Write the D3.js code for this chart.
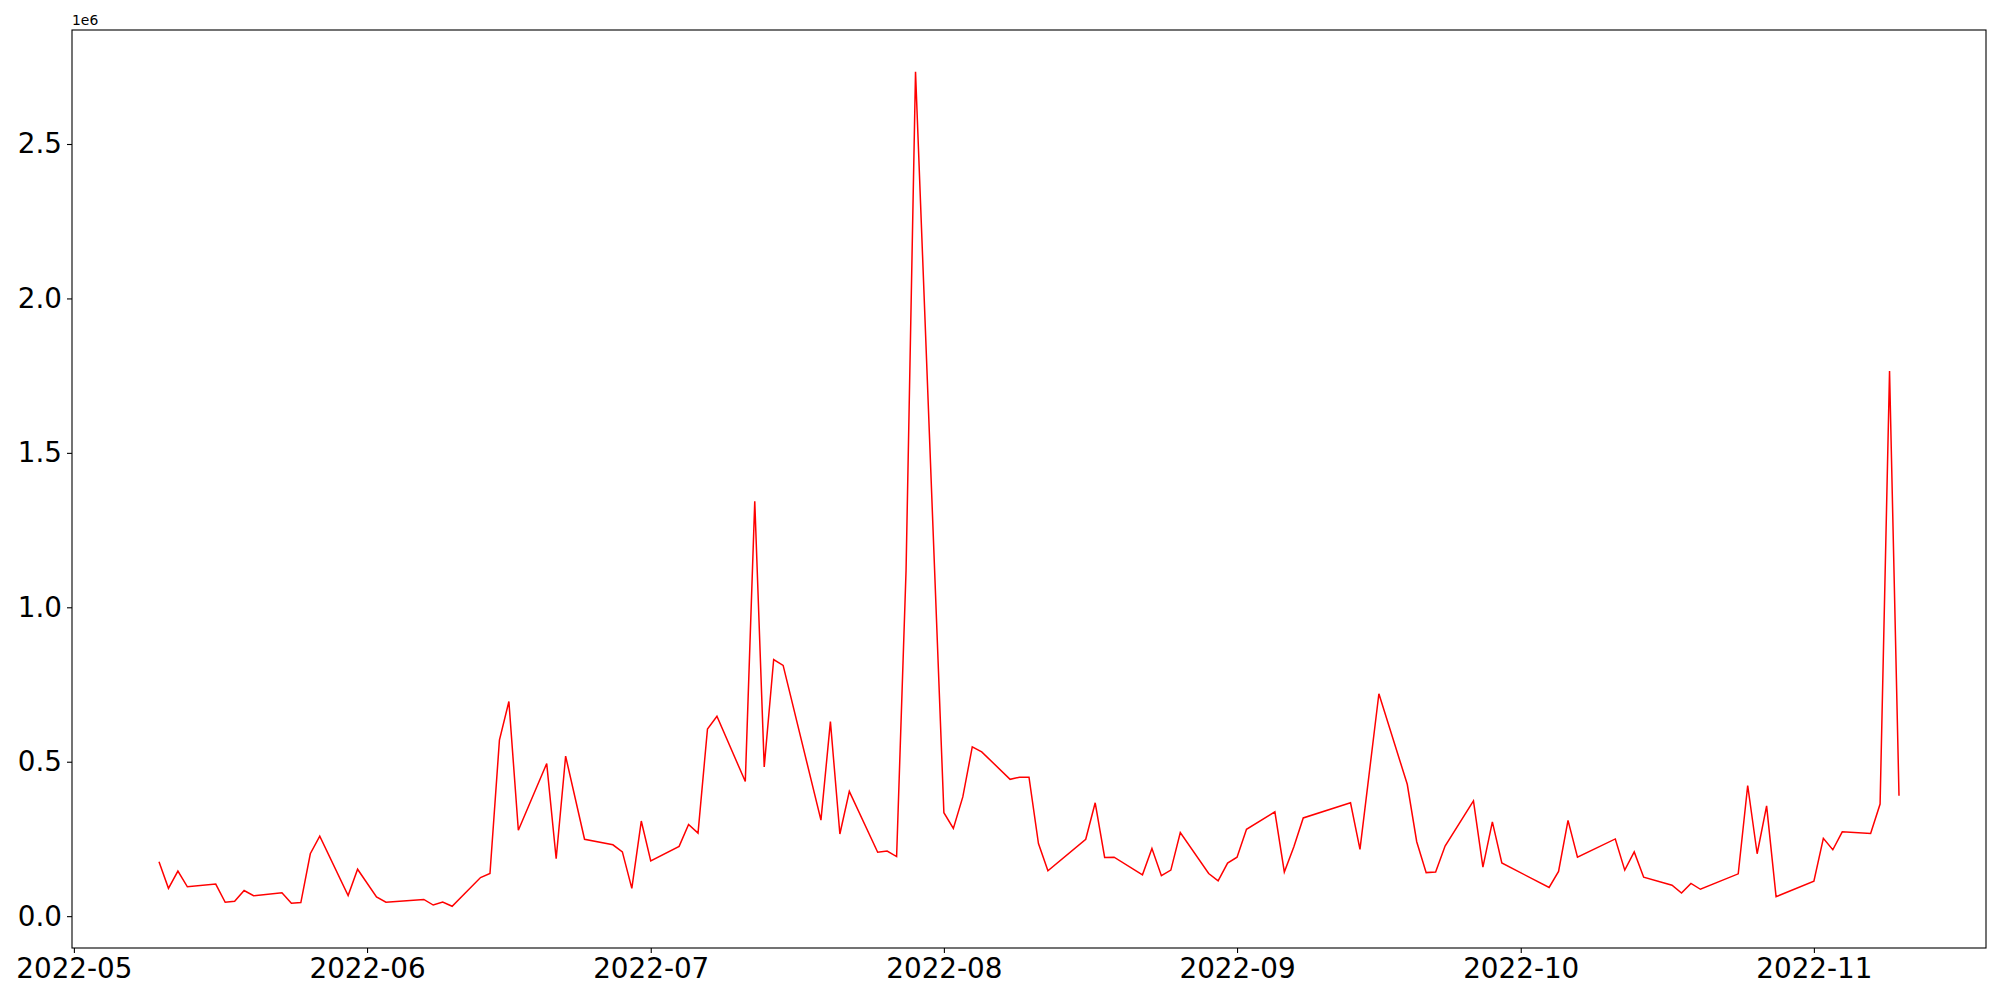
<!DOCTYPE html>
<html>
<head>
<meta charset="utf-8">
<script src="https://cdn.jsdelivr.net/npm/d3@7"></script>
<style>
  body { margin: 0; background: #fff; }
  text { font-family: "DejaVu Sans", sans-serif; }
</style>
</head>
<body>
<div id="chart"></div>
<script>
// trading days (weekdays, minus holidays) and their values
var dates = [
  "2022-05-10","2022-05-11","2022-05-12","2022-05-13","2022-05-16","2022-05-17","2022-05-18","2022-05-19","2022-05-20",
  "2022-05-23","2022-05-24","2022-05-25","2022-05-26","2022-05-27","2022-05-30","2022-05-31","2022-06-02","2022-06-03",
  "2022-06-07","2022-06-08","2022-06-09","2022-06-10","2022-06-13","2022-06-14","2022-06-15","2022-06-16","2022-06-17",
  "2022-06-20","2022-06-21","2022-06-22","2022-06-24","2022-06-27","2022-06-28","2022-06-29","2022-06-30","2022-07-01",
  "2022-07-04","2022-07-05","2022-07-06","2022-07-07","2022-07-08","2022-07-11","2022-07-12","2022-07-13","2022-07-14",
  "2022-07-15","2022-07-19","2022-07-20","2022-07-21","2022-07-22","2022-07-25","2022-07-26","2022-07-27","2022-07-28",
  "2022-07-29","2022-08-01","2022-08-02","2022-08-03","2022-08-04","2022-08-05","2022-08-08","2022-08-09","2022-08-10",
  "2022-08-11","2022-08-12","2022-08-16","2022-08-17","2022-08-18","2022-08-19","2022-08-22","2022-08-23","2022-08-24",
  "2022-08-25","2022-08-26","2022-08-29","2022-08-30","2022-08-31","2022-09-01","2022-09-02","2022-09-05","2022-09-06",
  "2022-09-07","2022-09-08","2022-09-13","2022-09-14","2022-09-16","2022-09-19","2022-09-20","2022-09-21","2022-09-22",
  "2022-09-23","2022-09-26","2022-09-27","2022-09-28","2022-09-29","2022-10-04","2022-10-05","2022-10-06","2022-10-07",
  "2022-10-11","2022-10-12","2022-10-13","2022-10-14","2022-10-17","2022-10-18","2022-10-19","2022-10-20","2022-10-24",
  "2022-10-25","2022-10-26","2022-10-27","2022-10-28","2022-11-01","2022-11-02","2022-11-03","2022-11-04","2022-11-07",
  "2022-11-08","2022-11-09","2022-11-10"
];

var values = [
  176000, 90000, 146000, 95000, 104000, 45000, 48000, 83000, 66000,
  76000, 42000, 44000, 202000, 259000, 67000, 152000, 62000, 45000,
  54000, 36000, 46000, 32000, 125000, 138000, 570000, 695000, 278000,
  494000, 186000, 518000, 249000, 231000, 208000, 90000, 308000, 179000,
  226000, 297000, 269000, 606000, 647000, 436000, 1343000, 483000, 831000,
  812000, 311000, 630000, 266000, 404000, 207000, 211000, 193000, 1120000,
  2734000, 335000, 284000, 386000, 548000, 532000, 443000, 450000, 450000,
  235000, 147000, 249000, 367000, 190000, 191000, 134000, 219000, 131000,
  149000, 271000, 138000, 114000, 172000, 191000, 281000, 338000, 143000,
  224000, 318000, 367000, 216000, 720000, 427000, 241000, 141000, 143000,
  227000, 373000, 159000, 305000, 172000, 93000, 145000, 310000, 191000,
  250000, 149000, 208000, 126000, 100000, 75000, 106000, 87000, 137000,
  423000, 202000, 357000, 63000, 113000, 252000, 215000, 273000, 268000,
  363000, 1765000, 390000
];

var yTicks = [0, 500000, 1000000, 1500000, 2000000, 2500000];
var yTickLabels = ["0.0", "0.5", "1.0", "1.5", "2.0", "2.5"];
var xTicks = ["2022-05-01","2022-06-01","2022-07-01","2022-08-01","2022-09-01","2022-10-01","2022-11-01"];

var width = 2000, height = 1000,
    margin = {top: 30, right: 14, bottom: 52, left: 72},
    w = width - margin.left - margin.right,
    h = height - margin.top - margin.bottom;

var parse = d3.utcParse("%Y-%m-%d");
var data = dates.map(function(d, i) { return {date: parse(d), value: values[i]}; });

// matplotlib style 5% margins on both axes
var xExt = d3.extent(data, function(d) { return d.date; });
var xPad = (xExt[1] - xExt[0]) * 0.05;
var x = d3.scaleUtc()
    .domain([new Date(+xExt[0] - xPad), new Date(+xExt[1] + xPad)])
    .range([0, w]);

var yExt = d3.extent(data, function(d) { return d.value; });
var yPad = (yExt[1] - yExt[0]) * 0.05;
var y = d3.scaleLinear()
    .domain([yExt[0] - yPad, yExt[1] + yPad])
    .range([h, 0]);

var svg = d3.select("#chart").append("svg")
    .attr("width", width)
    .attr("height", height);

var g = svg.append("g")
    .attr("transform", "translate(" + margin.left + "," + margin.top + ")");

var line = d3.line()
    .x(function(d) { return x(d.date); })
    .y(function(d) { return y(d.value); });

g.append("path")
    .datum(data)
    .attr("fill", "none")
    .attr("stroke", "#ff0000")
    .attr("stroke-width", 1.5)
    .attr("stroke-linejoin", "miter")
    .attr("d", line);

var xAxis = g.append("g")
    .attr("transform", "translate(0," + h + ")")
    .call(d3.axisBottom(x)
      .tickValues(xTicks.map(parse))
      .tickFormat(d3.utcFormat("%Y-%m"))
      .tickSize(5)
      .tickPadding(5));

var yAxis = g.append("g")
    .call(d3.axisLeft(y)
      .tickValues(yTicks)
      .tickFormat(function(d, i) { return yTickLabels[i]; })
      .tickSize(5)
      .tickPadding(5));

[xAxis, yAxis].forEach(function(a) {
  a.select(".domain").remove();
  a.selectAll(".tick line").attr("stroke", "#000").attr("stroke-width", 1.1);
  a.selectAll(".tick text")
    .attr("fill", "#000")
    .style("font-family", "'DejaVu Sans', sans-serif")
    .style("font-size", "27.8px");
});

// frame
g.append("rect")
    .attr("x", 0).attr("y", 0)
    .attr("width", w).attr("height", h)
    .attr("fill", "none")
    .attr("stroke", "#000")
    .attr("stroke-width", 1.1);

// offset label
g.append("text")
    .attr("x", 0)
    .attr("y", -5)
    .style("font-size", "13.9px")
    .attr("fill", "#000")
    .text("1e6");
</script>
</body>
</html>
